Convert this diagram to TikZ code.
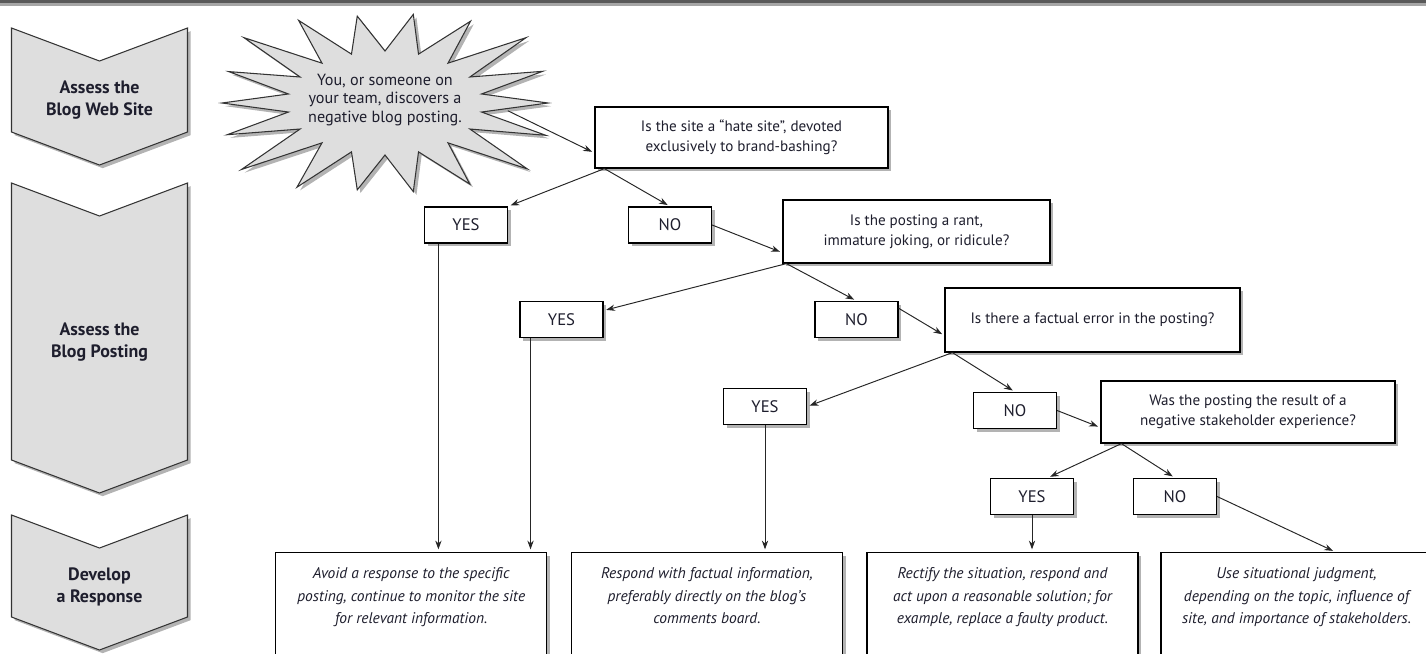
\documentclass[tikz,border=0pt]{standalone}
\usepackage{fontspec}
\setmainfont{PT Sans}
\usetikzlibrary{arrows.meta}
\usetikzlibrary{positioning}
\usetikzlibrary{calc}
\usetikzlibrary{shadows}
\definecolor{inkblue}{RGB}{30,30,45}
\tikzset{
    boxshadow/.style={drop shadow={shadow xshift=1.8pt, shadow yshift=-1.8pt, fill=black!50, opacity=0.6}},
    stage/.style={draw=black!80, line width=0.6pt, fill=black!13, boxshadow},
    stagetext/.style={text=inkblue, align=center, font=\fontsize{10.2}{12.6}\selectfont\bfseries},
    bursttext/.style={text=inkblue, align=center, minimum width=4.9cm, font=\fontsize{9.2}{10.3}\selectfont},
    question/.style={draw=black, line width=0.7pt, fill=white, align=center, text=inkblue,
        font=\fontsize{8.6}{11.3}\selectfont, boxshadow},
    answer/.style={draw=black, line width=0.7pt, fill=white, text=inkblue,
        minimum width=1.66cm, minimum height=0.72cm, font=\fontsize{9.5}{11}\selectfont, boxshadow},
    response/.style={draw=black, line width=0.7pt, fill=white, align=center, text=inkblue, anchor=north,
        minimum width=5.42cm, inner ysep=0.3cm, text depth=1.6cm,
        font=\fontsize{8.8}{12.8}\selectfont\itshape, boxshadow},
    flow/.style={->, line width=0.55pt, draw=black!85, shorten >=1.5pt},
}
\begin{document}
\begin{tikzpicture}[x=0.02cm, y=-0.02cm, >={Stealth[length=5pt,width=3.6pt]}]
\useasboundingbox (0,0) rectangle (1426,653);
% top rule
\fill[black!65] (0,0) rectangle (1426,3);
\fill[black!35] (0,3) rectangle (1426,5.5);

% stages on the left
\foreach \name/\t/\b/\txt in {site/28/132/{Assess the\\Blog Web Site},
        posting/183/460/{Assess the\\Blog Posting},
        develop/515/617/{Develop\\a Response}}{
    \draw[stage] (11.5,\t) -- (99.5,\t+33) -- (187.5,\t) -- (187.5,\b) -- (99.5,\b+33) -- (11.5,\b) -- cycle;
    \node[stagetext] (\name) at (99.5,{(\t+33+\b)/2+4}) {\txt};
}

% starburst
\begin{scope}[shift={(385,103)}]
    \draw[stage] (xy polar cs:angle=0, x radius=163, y radius=90)
        \foreach \a/\r in {20/1.05, 40/1.14, 60/1.04, 80/1.0, 100/0.98, 120/1.08, 140/1.15, 160/1.03,
            180/1.0, 200/1.02, 220/1.13, 240/1.06, 260/0.98, 280/1.0, 300/1.05, 320/1.13, 340/1.03}{
            -- (xy polar cs:angle=\a-10, x radius=98, y radius=52)
            -- (xy polar cs:angle=\a, x radius=163*\r, y radius=90*\r)
        } -- (xy polar cs:angle=350, x radius=98, y radius=52) -- cycle;
\end{scope}
\node[bursttext] (burst) at (385,100) {You, or someone on\\your team, discovers a\\negative blog posting.};

% questions
\node[question, minimum width=5.86cm, minimum height=1.22cm] (hate) at (741.5,137.5)
    {Is the site a ``hate site'', devoted\\exclusively to brand-bashing?};
\node[question, minimum width=5.34cm, minimum height=1.26cm] (rant) at (916.5,231.5)
    {Is the posting a rant,\\immature joking, or ridicule?};
\node[question, minimum width=5.9cm, minimum height=1.28cm] (factual) at (1092.5,320)
    {Is there a factual error in the posting?};
\node[question, minimum width=5.88cm, minimum height=1.24cm] (was) at (1248,412)
    {Was the posting the result of a\\negative stakeholder experience?};

% answers
\node[answer] (yes1) at (466,225) {YES};
\node[answer] (no1) at (670,225) {NO};
\node[answer] (yes2) at (561.5,319.5) {YES};
\node[answer] (no2) at (856.5,319.5) {NO};
\node[answer] (yes3) at (765,406.5) {YES};
\node[answer] (no3) at (1015,410.5) {NO};
\node[answer] (yes4) at (1032,496.5) {YES};
\node[answer] (no4) at (1175,496.5) {NO};

% responses
\node[response] (avoid) at (411.25,552)
    {Avoid a response to the specific\\posting, continue to monitor the site\\for relevant information.};
\node[response] (respond) at (707,552)
    {Respond with factual information,\\preferably directly on the blog's\\comments board.};
\node[response] (rectify) at (1002.5,552)
    {Rectify the situation, respond and\\act upon a reasonable solution; for\\example, replace a faulty product.};
\node[response] (use) at (1296.5,552)
    {Use situational judgment,\\depending on the topic, influence of\\site, and importance of stakeholders.};

% connectors
\draw[flow] (burst.-5) -- (hate.186);
\draw[flow] ($(hate.south west)+(10,0)$) -- (yes1.north east);
\draw[flow] ($(hate.south west)+(10,0)$) -- (no1.north);
\draw[flow] (no1.east) -- (rant.189);
\draw[flow] ($(rant.south west)+(4,0)$) -- (yes2.12);
\draw[flow] ($(rant.south west)+(4,0)$) -- (no2.north);
\draw[flow] (no2.15) -- (factual.186);
\draw[flow] ($(factual.south west)+(8,0)$) -- (yes3.east);
\draw[flow] ($(factual.south west)+(8,0)$) -- (no3.north);
\draw[flow] (no3.east) -- (was.186);
\draw[flow] ($(was.south west)+(21,0)$) -- (yes4.50);
\draw[flow] ($(was.south west)+(21,0)$) -- (no4.north);
\draw[flow] (no4.east) -- (use.65);
\draw[flow] (yes1.214) -- (yes1.214 |- avoid.north);
\draw[flow] (yes2.211) -- (yes2.211 |- avoid.north);
\draw[flow] (yes3.south) -- (yes3.south |- respond.north);
\draw[flow] (yes4.south) -- (yes4.south |- rectify.north);
\end{tikzpicture}
\end{document}
